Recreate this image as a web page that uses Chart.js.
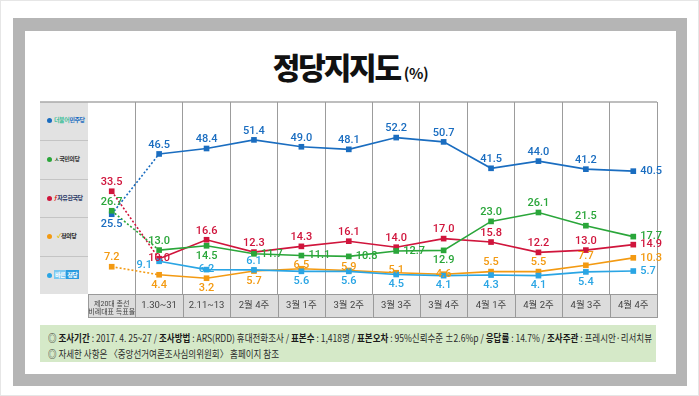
<!DOCTYPE html>
<html>
<head>
<meta charset="utf-8">
<script src="https://cdn.jsdelivr.net/npm/chart.js@4/dist/chart.umd.min.js"></script>
<style>
  html,body{margin:0;padding:0;background:#fff;}
  #page{position:relative;width:699px;height:396px;overflow:hidden;font-family:"Noto Sans CJK KR","Noto Sans",sans-serif;}
  .abs{position:absolute;}
  #edge{left:0;top:0;width:697px;height:394px;border:1px solid #e6e6e6;}
  #frame{left:13px;top:18px;width:674px;height:368px;background:#b5b5b5;}
  #inner{left:25px;top:31px;width:651px;height:343px;background:#fff;}
  #title{left:25px;top:44px;width:651px;text-align:center;white-space:nowrap;color:#111;}
  #title .t{font-size:30px;font-weight:900;letter-spacing:-2.2px;}
  #title .p{font-size:15px;font-weight:700;letter-spacing:-0.5px;margin-left:4px;}
  #legend{left:40px;top:102px;width:48px;height:192px;background:#e2e2e2;}
  .lrow{position:absolute;left:0;width:48px;height:38.4px;border-top:1px solid #c4c4c4;box-sizing:border-box;}
  .lrow:first-child{border-top:none;}
  .dot{position:absolute;left:7px;top:16px;width:5px;height:5px;border-radius:50%;}
  .ltxt{position:absolute;left:14px;top:13px;font-size:6px;line-height:10px;font-weight:700;white-space:nowrap;letter-spacing:-0.4px;}
  #note{left:40px;top:325px;width:616px;height:37px;background:#d5e9c8;}
  .nl{position:absolute;left:8px;font-size:10px;line-height:12px;color:#2a2a2a;white-space:nowrap;transform-origin:0 50%;}
  .nl b{font-weight:700;color:#1a1a1a;}
</style>
</head>
<body>
<div id="page">
  <div id="edge" class="abs"></div>
  <div id="frame" class="abs"></div>
  <div id="inner" class="abs"></div>
  <div id="title" class="abs"><span class="t">정당지지도</span><span class="p">(%)</span></div>
  <div id="legend" class="abs">
    <div class="lrow" style="top:0"><div class="dot" style="background:#1a6dc0"></div><div class="ltxt"><span style="color:#3fbf9a">더불어</span><span style="color:#1a6dc0">민주당</span></div></div>
    <div class="lrow" style="top:38.4px"><div class="dot" style="background:#2aa63a"></div><div class="ltxt" style="color:#333"><span style="color:#1f5e2a">ㅅ</span>국민의당</div></div>
    <div class="lrow" style="top:76.8px"><div class="dot" style="background:#d0153c"></div><div class="ltxt" style="color:#2b3a67"><span style="color:#e0302a">ƒ</span>자유한국당</div></div>
    <div class="lrow" style="top:115.2px"><div class="dot" style="background:#f39a12"></div><div class="ltxt" style="color:#222;left:17px"><span style="color:#e8c000">✓</span>정의당</div></div>
    <div class="lrow" style="top:153.6px"><div class="dot" style="background:#2aa5e4"></div><div class="ltxt" style="color:#fff"><span style="background:#7cc8f0;padding:0 1px">바른</span><span style="background:#2a9be0;padding:0 1px">정당</span></div></div>
  </div>
  <div id="note" class="abs">
    <div class="nl" id="nl1" style="top:7px">◎ <b>조사기간</b> : 2017. 4. 25~27 / <b>조사방법</b> : ARS(RDD) 휴대전화조사 / <b>표본수</b> : 1,418명 / <b>표본오차</b> : 95%신뢰수준 ±2.6%p / <b>응답률</b> : 14.7% / <b>조사주관</b> : 프레시안·리서치뷰</div>
    <div class="nl" id="nl2" style="top:23px">◎ 자세한 사항은 〈중앙선거여론조사심의위원회〉 홈페이지 참조</div>
  </div>
  <canvas id="c" class="abs" width="699" height="396" style="left:0;top:0;width:699px;height:396px"></canvas>
</div>
<script>
// ---- data ----
const categories = [["제20대 총선","비례대표 득표율"], "1.30~31", "2.11~13", "2월 4주", "3월 1주", "3월 2주", "3월 3주", "3월 4주", "4월 1주", "4월 2주", "4월 3주", "4월 4주"];
const seriesNames = ["더불어민주당", "국민의당", "자유한국당", "정의당", "바른정당"];
const minjoo  = [25.5, 46.5, 48.4, 51.4, 49.0, 48.1, 52.2, 50.7, 41.5, 44.0, 41.2, 40.5];
const gukmin  = [26.7, 13.0, 14.5, 11.7, 11.1, 10.8, 12.7, 12.9, 23.0, 26.1, 21.5, 17.7];
const jayu    = [33.5, 10.0, 16.6, 12.3, 14.3, 16.1, 14.0, 17.0, 15.8, 12.2, 13.0, 14.9];
const jeongui = [7.2, 4.4, 3.2, 5.7, 6.5, 5.9, 5.1, 4.6, 5.5, 5.5, 7.7, 10.3];
const bareun  = [null, 9.1, 6.2, 6.1, 5.6, 5.6, 4.5, 4.1, 4.3, 4.1, 5.4, 5.7];

// value-label placement (a=above, b=below, r=right, l=left, c=centre, o=slightly above)
const minjooPos  = ['b','a','a','a','a','a','a','a','a','a','a','r'];
const gukminPos  = ['a','a','b','r','r','r','r','b','a','a','a','r'];
const jayuPos    = ['a','c','a','a','a','a','a','a','a','a','a','r'];
const jeonguiPos = ['a','b','b','b','o','o','o','c','a','a','a','r'];
const bareunPos  = ['c','l','c','a','b','b','b','b','b','b','b','r'];

const colors = ["#1a6dc0", "#2aa63a", "#d0153c", "#f39a12", "#2aa5e4"];

// fit footnote width
(function(){
  const l1 = document.getElementById('nl1'), l2 = document.getElementById('nl2');
  const w = l1.getBoundingClientRect().width;
  const s = 604 / w;
  l1.style.transform = 'scaleX(' + s + ')';
  l2.style.transform = 'scaleX(' + s + ')';
})();

const valueLabels = {
  id: 'valueLabels',
  afterDatasetsDraw(chart) {
    const ctx = chart.ctx;
    ctx.save();
    ctx.font = '500 11px Roboto, sans-serif';
    ctx.textBaseline = 'middle';
    chart.data.datasets.forEach((ds, di) => {
      const meta = chart.getDatasetMeta(di);
      meta.data.forEach((pt, i) => {
        const v = ds.data[i];
        if (v === null || v === undefined) return;
        let x = pt.x, y = pt.y, align = 'center';
        switch (ds.labelPos[i]) {
          case 'a': y -= 9; break;
          case 'b': y += 10; break;
          case 'o': y -= 3; break;
          case 'r': x += 7; align = 'left'; break;
          case 'l': x -= 7; y += 4; align = 'right'; break;
          default: break;
        }
        ctx.textAlign = align;
        ctx.fillStyle = ds.borderColor;
        ctx.fillText(v.toFixed(1), x, y);
      });
    });
    ctx.restore();
  }
};

const tableBg = {
  id: 'tableBg',
  beforeDraw(chart) {
    const ctx = chart.ctx, x = chart.scales.x, area = chart.chartArea;
    ctx.save();
    const top = x.top, bot = x.bottom;
    ctx.fillStyle = '#dcdcdc';
    ctx.fillRect(area.left, top, area.right - area.left, bot - top);
    ctx.strokeStyle = '#9a9a9a';
    ctx.lineWidth = 1;
    ctx.beginPath();
    ctx.moveTo(area.left, top + 0.5); ctx.lineTo(area.right, top + 0.5);
    ctx.moveTo(area.left, bot - 0.5); ctx.lineTo(area.right, bot - 0.5);
    const n = chart.data.labels.length;
    const w = (area.right - area.left) / n;
    for (let i = 0; i <= n; i++) {
      const px = Math.round(area.left + i * w) + 0.5;
      ctx.moveTo(px, top); ctx.lineTo(px, bot);
    }
    ctx.stroke();
    ctx.strokeStyle = '#a8a8a8';
    ctx.lineWidth = 1.5;
    ctx.beginPath();
    ctx.moveTo(40, area.top); ctx.lineTo(area.right, area.top);
    ctx.stroke();
    ctx.restore();
  }
};

function makeSet(label, data, color, pos) {
  return {
    label, data, labelPos: pos,
    borderColor: color, backgroundColor: color,
    pointBackgroundColor: color, pointBorderColor: color,
    borderWidth: 1.6, pointStyle: 'rect', pointRadius: 4, pointBorderWidth: 0,
    tension: 0, clip: false, spanGaps: false,
    segment: { borderDash: ctx => ctx.p0DataIndex === 0 ? [2, 2] : undefined }
  };
}

new Chart(document.getElementById('c'), {
  type: 'line',
  data: {
    labels: categories,
    datasets: [
      makeSet(seriesNames[4], bareun, colors[4], bareunPos),
      makeSet(seriesNames[3], jeongui, colors[3], jeonguiPos),
      makeSet(seriesNames[1], gukmin, colors[1], gukminPos),
      makeSet(seriesNames[2], jayu, colors[2], jayuPos),
      makeSet(seriesNames[0], minjoo, colors[0], minjooPos)
    ]
  },
  options: {
    responsive: false,
    animation: false,
    devicePixelRatio: 1,
    layout: { padding: { left: 88, right: 42, top: 102, bottom: 78 } },
    plugins: { legend: { display: false }, tooltip: { enabled: false }, title: { display: false } },
    scales: {
      y: { display: false, min: -2.3, max: 64.6 },
      x: {
        offset: true,
        border: { display: false },
        grid: {
          offset: true, drawTicks: false, lineWidth: 1,
          color: ctx => (ctx.index === 0 || ctx.index >= 12) ? 'rgba(0,0,0,0)' : '#9c9c9c',
          borderDash: [1, 2]
        },
        ticks: {
          autoSkip: false, maxRotation: 0, padding: 6, color: '#444',
          font: ctx => ctx.index === 0 ? { family: "Roboto, 'Noto Sans CJK KR'", size: 7, lineHeight: 1.2 } : { family: "Roboto, 'Noto Sans CJK KR'", size: 9.5, lineHeight: 1.2 }
        },
        afterFit: s => { s.height = 24; }
      }
    }
  },
  plugins: [tableBg, valueLabels]
});
</script>
</body>
</html>
